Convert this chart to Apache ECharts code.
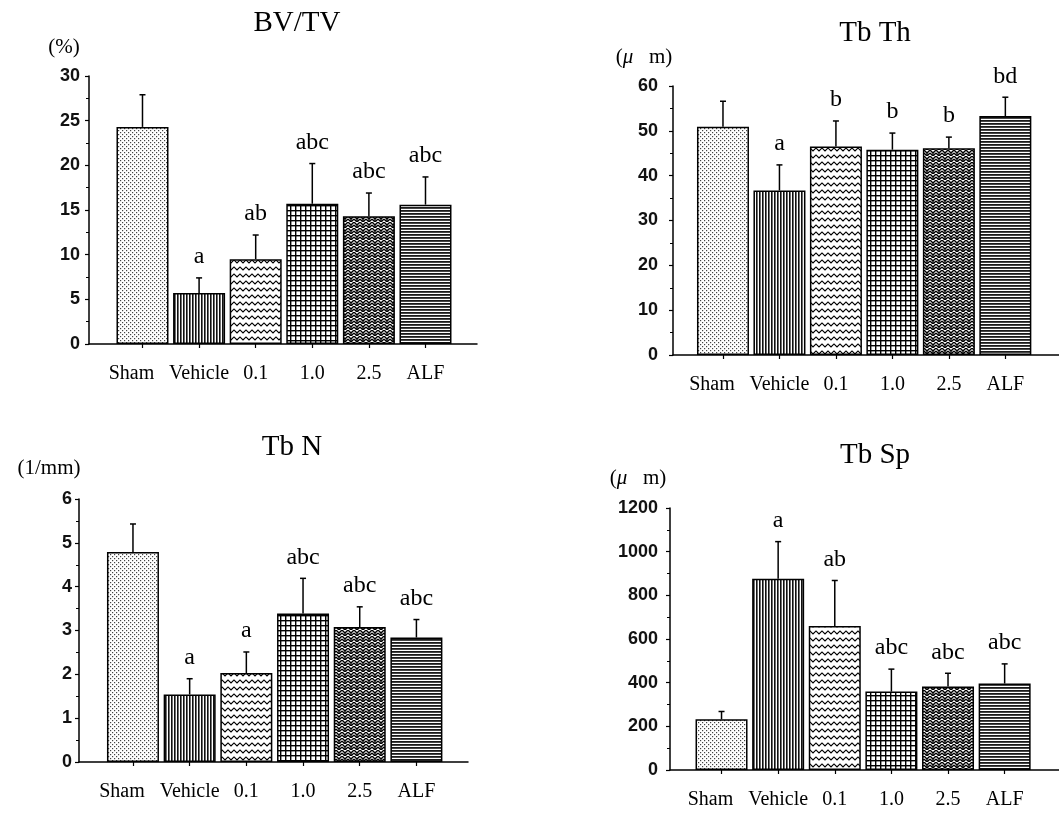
<!DOCTYPE html>
<html><head><meta charset="utf-8">
<script src="https://cdn.jsdelivr.net/npm/echarts@6/dist/echarts.min.js"></script>
<style>html,body{margin:0;padding:0;background:#fff}#c{width:1059px;height:814px}</style>
</head><body><div id="c"></div>
<script>
// ---- data ----
const categories = ['Sham', 'Vehicle', '0.1', '1.0', '2.5', 'ALF'];

const bvtvMean = [24.3, 5.7, 9.5, 15.7, 14.3, 15.6];
const bvtvErr  = [3.6, 1.7, 2.7, 4.5, 2.6, 3.1];
const bvtvSig  = ['', 'a', 'ab', 'abc', 'abc', 'abc'];

const tbthMean = [50.9, 36.7, 46.5, 45.8, 46.1, 53.3];
const tbthErr  = [5.7, 5.7, 5.7, 3.7, 2.5, 4.2];
const tbthSig  = ['', 'a', 'b', 'b', 'b', 'bd'];

const tbnMean = [4.79, 1.54, 2.03, 3.39, 3.08, 2.84];
const tbnErr  = [0.64, 0.36, 0.48, 0.80, 0.46, 0.41];
const tbnSig  = ['', 'a', 'a', 'abc', 'abc', 'abc'];

const tbspMean = [232, 876, 660, 359, 382, 396];
const tbspErr  = [36, 170, 208, 103, 61, 90];
const tbspSig  = ['', 'a', 'ab', 'abc', 'abc', 'abc'];

const titles = ['BV/TV', 'Tb Th', 'Tb N', 'Tb Sp'];
const units  = ['(%)', '({i|\u03bc}   m)', '(1/mm)', '({i|\u03bc}   m)'];
const yMax      = [30, 60, 6, 1200];
const yInterval = [5, 10, 1, 200];

// ---- patterns ----
function tile(w, h, draw) {
  const c = document.createElement('canvas');
  c.width = w; c.height = h;
  const g = c.getContext('2d');
  g.fillStyle = '#fff'; g.fillRect(0, 0, w, h);
  draw(g);
  return { image: c, repeat: 'repeat' };
}
const patterns = [
  tile(4, 4, g => { g.fillStyle = '#444'; g.fillRect(0, 0, 1.2, 1.2); g.fillRect(2, 2, 1.2, 1.2); }),
  tile(3, 4, g => { g.fillStyle = '#111'; g.fillRect(0, 0, 1.6, 4); }),
  tile(6, 7, g => { g.strokeStyle = '#000'; g.lineWidth = 1.2; g.beginPath(); g.moveTo(-1.5, 2.5); g.lineTo(0, 1); g.lineTo(3, 4); g.lineTo(6, 1); g.lineTo(7.5, 2.5); g.stroke(); }),
  tile(5, 5, g => { g.fillStyle = '#000'; g.fillRect(0, 0, 5, 1.4); g.fillRect(0, 0, 1.4, 5); }),
  tile(6, 6, g => { g.strokeStyle = '#000'; g.lineWidth = 1.4; g.beginPath();
    g.moveTo(0, 0); g.lineTo(3, 3); g.lineTo(6, 0); g.moveTo(0, 3); g.lineTo(3, 6); g.lineTo(6, 3);
    g.moveTo(3, 3); g.lineTo(3, 4.5); g.stroke(); }),
  tile(4, 3, g => { g.fillStyle = '#1a1a1a'; g.fillRect(0, 0, 4, 1.8); })
];

// ---- layout ----
const panels = [
  { mean: bvtvMean, err: bvtvErr, sig: bvtvSig, grid: { left: 89, top: 76, width: 388, height: 268 }, xr: [-0.945, 5.91], lm: 9,
    title: [297, 23], unit: [64, 47] },
  { mean: tbthMean, err: tbthErr, sig: tbthSig, grid: { left: 673, top: 86, width: 386, height: 269 }, xr: [-0.885, 5.95], lm: 15,
    title: [875, 33], unit: [644, 57] },
  { mean: tbnMean, err: tbnErr, sig: tbnSig, grid: { left: 79, top: 499, width: 389, height: 263 }, xr: [-0.952, 5.91], lm: 7,
    title: [292, 447], unit: [49, 468] },
  { mean: tbspMean, err: tbspErr, sig: tbspSig, grid: { left: 670, top: 508, width: 389, height: 262 }, xr: [-0.91, 5.96], lm: 12,
    title: [875, 455], unit: [638, 478] }
];

const SERIF = '"Liberation Serif", "Times New Roman", serif';
const SANS = '"Liberation Sans", Arial, sans-serif';
const idx = categories.map((c, i) => i);

const option = {
  animation: false,
  backgroundColor: '#fff',
  grid: panels.map(p => Object.assign({ containLabel: false }, p.grid)),
  xAxis: panels.map((p, k) => ({
    type: 'value', gridIndex: k, min: p.xr[0], max: p.xr[1],
    axisLine: { show: true, onZero: false, lineStyle: { color: '#000', width: 1.5 } },
    axisTick: { show: true, customValues: idx, length: 4, lineStyle: { color: '#000', width: 1.2 } },
    axisLabel: {
      customValues: idx, margin: 20,
      formatter: v => { const i = Math.round(v); return i === 0 ? '{p|' + categories[0] + '}' : (categories[i] || ''); },
      fontFamily: SERIF, fontSize: 20, color: '#000',
      rich: { p: { fontFamily: SERIF, fontSize: 20, color: '#000', padding: [0, 22, 0, 0] } }
    },
    splitLine: { show: false }, minorTick: { show: false }
  })),
  yAxis: panels.map((p, k) => ({
    type: 'value', gridIndex: k, min: 0, max: yMax[k], interval: yInterval[k],
    axisLine: { show: true, onZero: false, lineStyle: { color: '#000', width: 1.5 } },
    axisTick: { show: true, length: 4, lineStyle: { color: '#000', width: 1.2 } },
    minorTick: { show: true, splitNumber: 2, length: 3, lineStyle: { color: '#000', width: 1 } },
    axisLabel: { margin: p.lm, fontFamily: SANS, fontSize: 18, fontWeight: 'bold', color: '#111', formatter: v => String(v) },
    splitLine: { show: false }
  })),
  graphic: panels.flatMap((p, k) => [
    { type: 'text', x: p.title[0], y: p.title[1], style: { text: titles[k], fontFamily: SERIF, fontSize: 29, fill: '#000', align: 'center', verticalAlign: 'middle' } },
    { type: 'text', x: p.unit[0], y: p.unit[1], style: { text: units[k], fontFamily: SERIF, fontSize: 21, fill: '#000', align: 'center', verticalAlign: 'middle',
      rich: { i: { fontFamily: SERIF, fontSize: 21, fontStyle: 'italic', fill: '#000' } } } }
  ]),
  series: panels.flatMap((p, k) => [
    {
      type: 'bar', xAxisIndex: k, yAxisIndex: k, barWidth: 52,
      data: p.mean.map((v, i) => ({ value: [i, v], itemStyle: { color: patterns[i] } })),
      itemStyle: { borderColor: '#000', borderWidth: 1.5 }
    },
    {
      type: 'custom', xAxisIndex: k, yAxisIndex: k, z: 5,
      data: p.mean.map((v, i) => [i, v, p.err[i]]),
      renderItem: function (params, api) {
        const i = api.value(0), v = api.value(1), e = api.value(2);
        const b = api.coord([i, v]);
        const t = api.coord([i, v + e]);
        return {
          type: 'group', children: [
            { type: 'line', shape: { x1: b[0], y1: b[1], x2: t[0], y2: t[1] }, style: { stroke: '#000', lineWidth: 1.5 } },
            { type: 'line', shape: { x1: t[0] - 3, y1: t[1], x2: t[0] + 3, y2: t[1] }, style: { stroke: '#000', lineWidth: 1.5 } },
            { type: 'text', x: t[0], y: t[1] - 9, style: { text: p.sig[params.dataIndex], fontFamily: SERIF, fontSize: 24, fill: '#000', align: 'center', verticalAlign: 'bottom' } }
          ]
        };
      }
    }
  ])
};

const chart = echarts.init(document.getElementById('c'), null, { renderer: 'canvas' });
chart.setOption(option);
</script>
</body></html>
